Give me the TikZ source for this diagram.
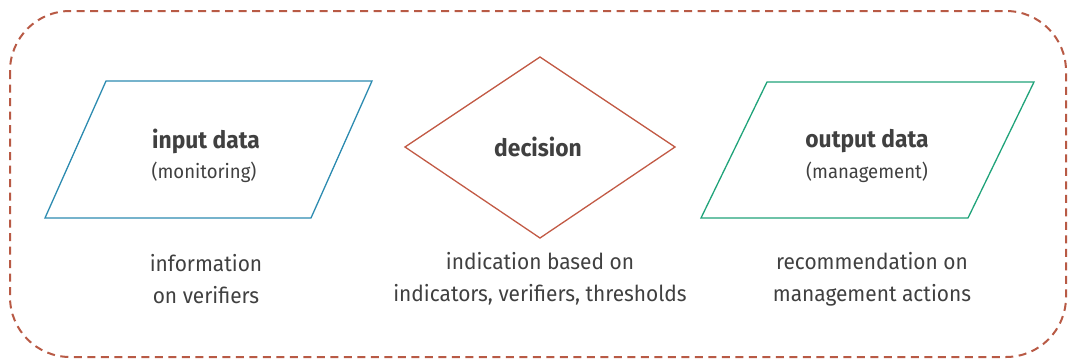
\documentclass[tikz,border=0pt]{standalone}
\usepackage{fontspec}
\setmainfont{Fira Sans}[FakeStretch=0.95]
\usetikzlibrary{calc}
\definecolor{border}{HTML}{B85A45}
\definecolor{inblue}{HTML}{2C8BB0}
\definecolor{decred}{HTML}{C25A45}
\definecolor{outgreen}{HTML}{20A37A}
\definecolor{txt}{HTML}{404040}
\tikzset{
  shapeline/.style={line width=1.3pt},
  title/.style={text=txt, font=\fontsize{24}{28}\selectfont\bfseries, inner sep=0pt},
  subtitle/.style={text=txt, font=\fontsize{19.5}{22}\selectfont, inner sep=0pt},
  caption/.style={text=txt, font=\fontsize{22}{32}\selectfont, align=center, inner sep=0pt},
}
\begin{document}
\begin{tikzpicture}[x=1pt,y=-1pt]
\useasboundingbox (0,0) rectangle (1074,362);
% frame
\draw[border, line width=2pt, dash pattern=on 8pt off 5.5pt, rounded corners=60pt] (10,11) rectangle (1066,357);
% input parallelogram
\coordinate (i1) at (106,81); \coordinate (i2) at (372,81);
\coordinate (i3) at (311,218); \coordinate (i4) at (45,218);
\draw[inblue, shapeline] (i1) -- (i2) -- (i3) -- (i4) -- cycle;
% decision diamond
\coordinate (d1) at (540,57); \coordinate (d2) at (675,147);
\coordinate (d3) at (540,238); \coordinate (d4) at (405,147);
\draw[decred, shapeline] (d1) -- (d2) -- (d3) -- (d4) -- cycle;
% output parallelogram
\coordinate (o1) at (767,82); \coordinate (o2) at (1034,82);
\coordinate (o3) at (968,218); \coordinate (o4) at (701,218);
\draw[outgreen, shapeline] (o1) -- (o2) -- (o3) -- (o4) -- cycle;
% texts
\node[title] (inT) at (206,141) {input data};
\node[subtitle] (inS) at (204,172) {(monitoring)};
\node[title] (decT) at (538,147) {decision};
\node[title] (outT) at (867,141) {output data};
\node[subtitle] (outS) at (867,172) {(management)};
\node[caption] (inC) at (206,279) {information\\on verifiers};
\node[caption] (decC) at (540,279) {indication based on\\indicators, verifiers, thresholds};
\node[caption] (outC) at (872,279) {recommendation on\\management actions};
\end{tikzpicture}
\end{document}
